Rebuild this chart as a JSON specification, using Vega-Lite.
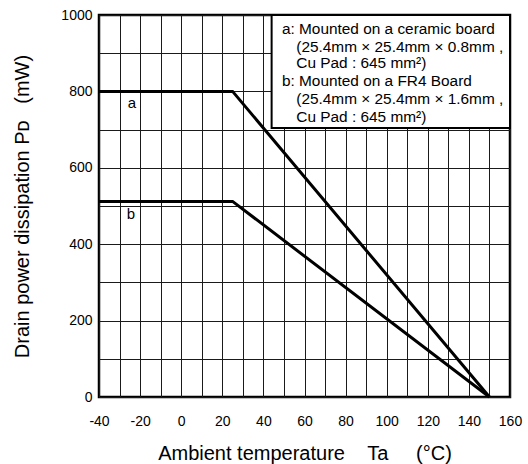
{
  "$schema": "https://vega.github.io/schema/vega-lite/v6.json",
  "width": 411,
  "height": 382,
  "autosize": "none",
  "padding": {"left": 99, "top": 15, "right": 18, "bottom": 67},
  "background": "white",
  "config": {
    "view": {"stroke": "black", "strokeWidth": 2.5},
    "font": "Liberation Sans",
    "axis": {
      "grid": true,
      "gridColor": "#1a1a1a",
      "gridWidth": 1,
      "gridOpacity": 1,
      "ticks": false,
      "domain": false,
      "labelFont": "Liberation Sans",
      "labelFontSize": 14,
      "labelColor": "black",
      "titleFont": "Liberation Sans",
      "titleFontSize": 20,
      "titleFontWeight": "normal",
      "titleColor": "black"
    }
  },
  "datasets": {
    "curves": [
      {"series": "a", "temp": -40, "power": 800},
      {"series": "a", "temp": 25, "power": 800},
      {"series": "a", "temp": 150, "power": 0},
      {"series": "b", "temp": -40, "power": 512},
      {"series": "b", "temp": 25, "power": 512},
      {"series": "b", "temp": 150, "power": 0}
    ],
    "labels": [
      {"label": "a", "temp": -24, "power": 770},
      {"label": "b", "temp": -24.5, "power": 479}
    ],
    "box": [
      {"temp": 44, "temp2": 160, "power": 704, "power2": 1000}
    ],
    "notes": [
      {"text": "a: Mounted on a ceramic board", "temp": 49, "power": 964},
      {"text": "(25.4mm × 25.4mm × 0.8mm ,", "temp": 56, "power": 917},
      {"text": "Cu Pad : 645 mm²)", "temp": 56, "power": 874},
      {"text": "b: Mounted on a FR4 Board", "temp": 49, "power": 828},
      {"text": "(25.4mm × 25.4mm × 1.6mm ,", "temp": 56, "power": 779},
      {"text": "Cu Pad : 645 mm²)", "temp": 56, "power": 733}
    ]
  },
  "encoding": {
    "x": {
      "field": "temp",
      "type": "quantitative",
      "scale": {"domain": [-40, 160], "nice": false, "zero": false},
      "axis": {
        "values": [-40, -30, -20, -10, 0, 10, 20, 30, 40, 50, 60, 70, 80, 90, 100, 110, 120, 130, 140, 150, 160],
        "labelExpr": "datum.value % 20 === 0 ? '' + datum.value : ''",
        "labelPadding": 17,
        "labelFlush": false,
        "labelOverlap": false,
        "title": "Ambient temperature\u00a0\u00a0\u00a0\u00a0Ta\u00a0\u00a0\u00a0\u00a0\u00a0(°C)",
        "titlePadding": 15
      }
    },
    "y": {
      "field": "power",
      "type": "quantitative",
      "scale": {"domain": [0, 1000], "nice": false},
      "axis": {
        "values": [0, 100, 200, 300, 400, 500, 600, 700, 800, 900, 1000],
        "labelExpr": "datum.value % 200 === 0 ? '' + datum.value : ''",
        "labelPadding": 7,
        "labelFlush": false,
        "labelOverlap": false,
        "title": "Drain power dissipation P\u1d05\u00a0\u00a0\u00a0(mW)",
        "titlePadding": 28
      }
    }
  },
  "layer": [
    {
      "data": {"name": "box"},
      "mark": {"type": "rect", "fill": "white", "stroke": "black", "strokeWidth": 2},
      "encoding": {
        "x2": {"field": "temp2"},
        "y2": {"field": "power2"}
      }
    },
    {
      "data": {"name": "curves"},
      "mark": {"type": "line", "color": "black", "strokeWidth": 3},
      "encoding": {
        "detail": {"field": "series"}
      }
    },
    {
      "data": {"name": "labels"},
      "mark": {"type": "text", "fontSize": 15, "color": "black", "align": "center", "baseline": "middle"},
      "encoding": {"text": {"field": "label"}}
    },
    {
      "data": {"name": "notes"},
      "mark": {"type": "text", "fontSize": 15.4, "color": "black", "align": "left", "baseline": "middle"},
      "encoding": {"text": {"field": "text"}}
    }
  ]
}
